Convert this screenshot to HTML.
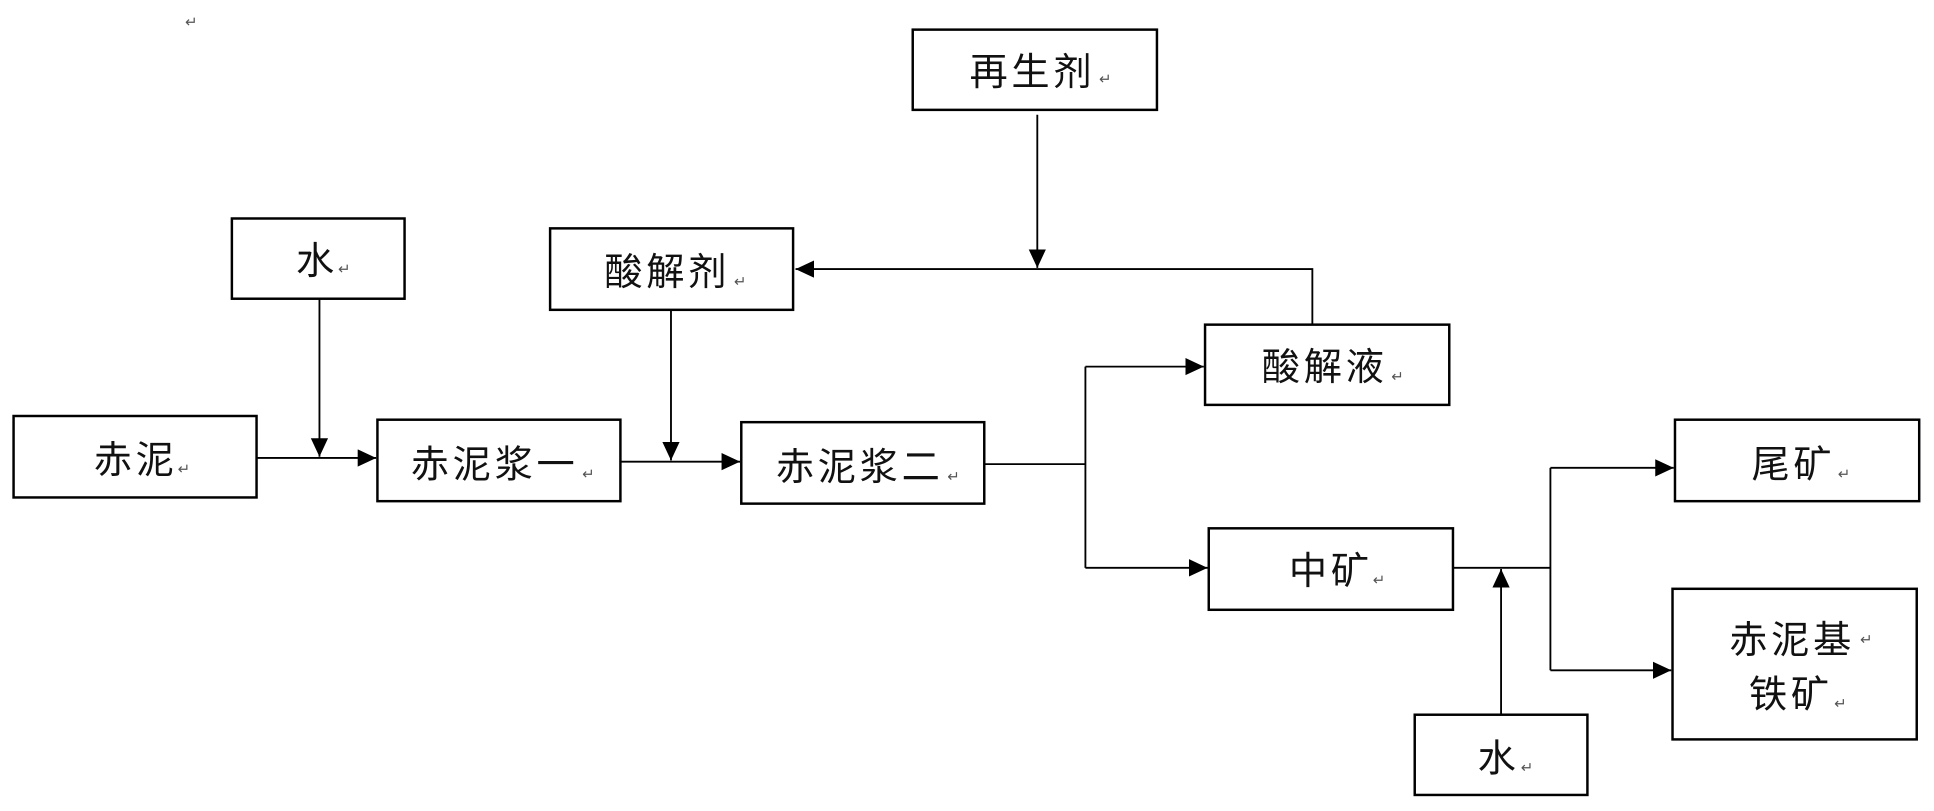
<!DOCTYPE html>
<html><head><meta charset="utf-8"><style>
html,body{margin:0;padding:0;background:#fff;}
svg{display:block}
text{font-family:"Liberation Sans","Noto Sans CJK SC",sans-serif;font-size:31px;fill:#111;letter-spacing:3px}
.m{font-size:12px;fill:#555;letter-spacing:0}
</style></head><body>
<svg width="1934" height="811" viewBox="0 0 1568 657" preserveAspectRatio="none" xmlns="http://www.w3.org/2000/svg">
<defs>
<marker id="b" markerWidth="16" markerHeight="16" refX="15" refY="7" orient="auto" markerUnits="userSpaceOnUse"><path d="M0,0 L15,7 L0,14 Z" fill="#000"/></marker></defs>
<g fill="none" stroke="#000" stroke-width="2">
<rect x="740" y="24" width="198" height="65"/>
<rect x="188" y="177" width="140" height="65"/>
<rect x="446" y="185" width="197" height="66"/>
<rect x="11" y="337" width="197" height="66"/>
<rect x="306" y="340" width="197" height="66"/>
<rect x="601" y="342" width="197" height="66"/>
<rect x="977" y="263" width="198" height="65"/>
<rect x="1358" y="340" width="198" height="66"/>
<rect x="980" y="428" width="198" height="66"/>
<rect x="1356" y="477" width="198" height="122"/>
<rect x="1147" y="579" width="140" height="65"/>
</g>
<g fill="none" stroke="#000" stroke-width="1.5">
<line x1="208" y1="371" x2="305" y2="371" marker-end="url(#b)"/>
<line x1="259" y1="242" x2="259" y2="370" marker-end="url(#b)"/>
<line x1="503" y1="374" x2="600" y2="374" marker-end="url(#b)"/>
<line x1="544" y1="251" x2="544" y2="373" marker-end="url(#b)"/>
<polyline points="798,376 880,376"/>
<line x1="880" y1="297" x2="880" y2="460"/>
<line x1="880" y1="297" x2="976" y2="297" marker-end="url(#b)"/>
<line x1="880" y1="460" x2="979" y2="460" marker-end="url(#b)"/>
<polyline points="1064,263 1064,218 645,218" marker-end="url(#b)"/>
<line x1="841" y1="93" x2="841" y2="217" marker-end="url(#b)"/>
<line x1="1178" y1="460" x2="1257" y2="460"/>
<line x1="1257" y1="379" x2="1257" y2="543"/>
<line x1="1257" y1="379" x2="1357" y2="379" marker-end="url(#b)"/>
<line x1="1257" y1="543" x2="1355" y2="543" marker-end="url(#b)"/>
<line x1="1217" y1="579" x2="1217" y2="461" marker-end="url(#b)"/>
</g>
<text x="786" y="69">再生剂</text><text class="m" x="891" y="68">↵</text>
<text x="240" y="222">水</text><text class="m" x="274" y="222">↵</text>
<text x="490" y="231">酸解剂</text><text class="m" x="595" y="232">↵</text>
<text x="76" y="383">赤泥</text><text class="m" x="144" y="384">↵</text>
<text x="333" y="387">赤泥浆一</text><text class="m" x="472" y="388">↵</text>
<text x="629" y="389">赤泥浆二</text><text class="m" x="768" y="390">↵</text>
<text x="1023" y="308">酸解液</text><text class="m" x="1128" y="309">↵</text>
<text x="1420" y="387">尾矿</text><text class="m" x="1490" y="388">↵</text>
<text x="1045" y="473">中矿</text><text class="m" x="1113" y="474">↵</text>
<text x="1402" y="529">赤泥基</text><text class="m" x="1508" y="522">↵</text>
<text x="1418" y="573">铁矿</text><text class="m" x="1487" y="574">↵</text>
<text x="1198" y="625">水</text><text class="m" x="1233" y="626">↵</text>
<text class="m" x="150" y="22">↵</text>
</svg>
</body></html>
